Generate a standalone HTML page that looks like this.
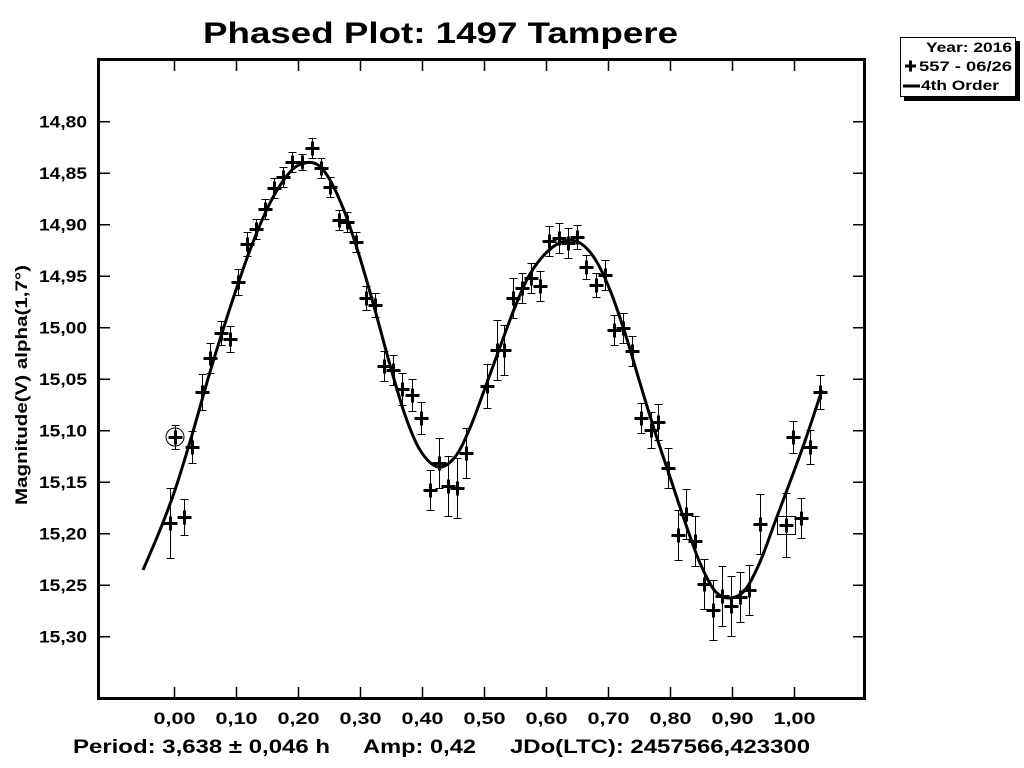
<!DOCTYPE html>
<html><head><meta charset="utf-8"><style>
body{margin:0;background:#fff;}
svg{display:block;font-family:"Liberation Sans",sans-serif;font-weight:bold;}
</style></head><body>
<svg id="s" width="1024" height="768" viewBox="0 0 1024 768" xmlns="http://www.w3.org/2000/svg">
<rect width="1024" height="768" fill="#fff"/>
<text x="203" y="43" font-size="30" textLength="475" lengthAdjust="spacingAndGlyphs">Phased Plot: 1497 Tampere</text>
<rect x="98.5" y="59.5" width="766" height="639" fill="none" stroke="#000" stroke-width="3"/>
<g font-size="17" id="yl"></g>
<g font-size="17" id="xl"></g>
<text transform="translate(27,385) rotate(-90)" font-size="17" text-anchor="middle" textLength="240" lengthAdjust="spacingAndGlyphs">Magnitude(V) alpha(1,7°)</text>
<text x="73" y="753" font-size="19" textLength="257" lengthAdjust="spacingAndGlyphs">Period: 3,638 ± 0,046 h</text>
<text x="363" y="753" font-size="19" textLength="113" lengthAdjust="spacingAndGlyphs">Amp: 0,42</text>
<text x="510" y="753" font-size="19" textLength="300" lengthAdjust="spacingAndGlyphs">JDo(LTC): 2457566,423300</text>
<rect x="904" y="41" width="116" height="60" fill="#000"/>
<rect x="900.5" y="37.5" width="115" height="59" fill="#fff" stroke="#000" stroke-width="1"/>
<g font-size="14">
<text x="926" y="52" textLength="86" lengthAdjust="spacingAndGlyphs">Year: 2016</text>
<text x="919" y="71" textLength="93" lengthAdjust="spacingAndGlyphs">557 - 06/26</text>
<text x="921" y="90" textLength="78" lengthAdjust="spacingAndGlyphs">4th Order</text>
</g>
<path d="M905 66h11M910.5 60.5v11" stroke="#000" stroke-width="3"/>
<path d="M903 86h17" stroke="#000" stroke-width="3"/>
<g id="g"></g>
</svg>
<script>
var g=document.getElementById('g'),h='',yl='',xl='';
var xs=['0,00','0,10','0,20','0,30','0,40','0,50','0,60','0,70','0,80','0,90','1,00'];
for(var i=0;i<11;i++){var x=174.5+i*62;h+='<path d="M'+x+' 698v-11M'+x+' 60v11" stroke="#000" stroke-width="1.5"/>';
xl+='<text x="'+(x-21)+'" y="724" textLength="42" lengthAdjust="spacingAndGlyphs">'+xs[i]+'</text>';}
var ys=['14,80','14,85','14,90','14,95','15,00','15,05','15,10','15,15','15,20','15,25','15,30'];
for(var i=0;i<11;i++){var y=121.7+i*51.5;h+='<path d="M99 '+y+'h11M864 '+y+'h-11" stroke="#000" stroke-width="1.5"/>';
yl+='<text x="39" y="'+(y+6)+'" textLength="48" lengthAdjust="spacingAndGlyphs">'+ys[i]+'</text>';}
document.getElementById('yl').innerHTML=yl;document.getElementById('xl').innerHTML=xl;
var c=[[143,570],[160,530],[175,490],[192,435],[210,372],[230,308],[250,250],[270,203],[290,172],[305,163],[318,165],[330,180],[345,213],[360,258],[375,310],[390,365],[405,415],[420,450],[438,467],[455,457],[470,428],[485,388],[500,347],[515,307],[530,274],[548,251],[565,241],[580,243],[595,259],[610,290],[625,333],[640,383],[655,432],[670,477],[685,522],[700,563],[715,591],[730,598],[745,590],[760,562],[775,522],[790,482],[805,441],[822,390]];
function cr(pts){var d='M'+pts[0][0]+' '+pts[0][1];for(var i=0;i<pts.length-1;i++){var p0=pts[i-1]||pts[i],p1=pts[i],p2=pts[i+1],p3=pts[i+2]||p2;
d+=' C'+(p1[0]+(p2[0]-p0[0])/6)+' '+(p1[1]+(p2[1]-p0[1])/6)+' '+(p2[0]-(p3[0]-p1[0])/6)+' '+(p2[1]-(p3[1]-p1[1])/6)+' '+p2[0]+' '+p2[1];}return d;}
h+='<path fill="none" stroke="#000" stroke-width="3" d="'+cr(c)+'"/>';
var p=[[175,437,12],[170,523,35],[184,517,18],[192,447,16],[202,392,18],[210,358,15],[221,333,12],[230,339,13],[238,282,13],[247,244,12],[256,229,10],[265,209,10],[274,188,10],[283,177,10],[292,162,10],[302,162,8],[312,148,10],[321,168,10],[330,187,10],[339,220,10],[347,222,10],[356,242,10],[366,298,12],[375,305,12],[384,366,15],[393,370,15],[402,389,16],[412,395,16],[421,418,16],[430,490,20],[439,463,25],[448,486,30],[457,488,30],[466,453,25],[487,386,22],[497,350,30],[504,350,25],[513,298,20],[522,288,15],[531,278,15],[540,286,15],[549,241,15],[559,238,15],[568,243,15],[577,237,12],[586,267,12],[596,285,12],[605,275,15],[614,330,15],[623,328,15],[632,351,15],[641,418,15],[651,430,18],[658,422,18],[668,468,20],[678,535,25],[686,514,25],[695,541,25],[704,584,25],[713,610,30],[722,596,30],[731,606,30],[740,597,25],[749,590,25],[760,524,30],[786,525,32],[793,437,16],[801,518,20],[810,447,17],[820,392,17]];
p.forEach(function(a){var x=a[0]+0.5,y=a[1]+0.5,e=a[2];
h+='<path d="M'+x+' '+(y-e)+'v'+(2*e)+'M'+(x-4)+' '+(y-e)+'h8M'+(x-4)+' '+(y+e)+'h8" stroke="#000" stroke-width="1" shape-rendering="crispEdges"/>';
h+='<path d="M'+(x-7)+' '+y+'h14M'+x+' '+(y-7)+'v14" stroke="#000" stroke-width="3"/>';});
h+='<circle cx="175" cy="437" r="9" fill="none" stroke="#000" stroke-width="1"/>';
h+='<rect x="777.5" y="516.5" width="18" height="18" fill="none" stroke="#000" stroke-width="1"/>';
g.innerHTML=h;
</script>
</body></html>
